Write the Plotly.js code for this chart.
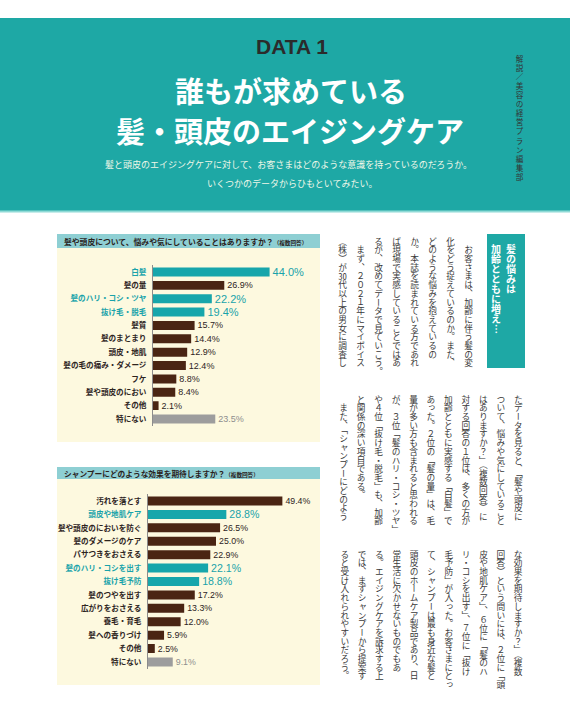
<!DOCTYPE html>
<html>
<head>
<meta charset="utf-8">
<script src="https://cdn.plot.ly/plotly-3.0.1.min.js"></script>
<style>
  html, body { margin:0; padding:0; background:#fff; }
  #wrap { position:relative; width:570px; height:705px; overflow:hidden; }
  #chart { position:absolute; left:0; top:0; width:570px; height:705px; }
  .vt { position:absolute; writing-mode:vertical-rl; white-space:nowrap;
        font-family:"Noto Sans CJK JP","Noto Sans",sans-serif; color:#3a3a3a; }
  .tcy { text-combine-upright:all; }
</style>
</head>
<body>
<div id="wrap">
  <div id="chart"></div>
  <div id="credit" class="vt"></div>
  <div id="boxhead" class="vt"></div>
  <div id="row1" class="vt"></div>
  <div id="row2" class="vt"></div>
  <div id="row3" class="vt"></div>
</div>
<script>
// ---------------- data ----------------
const title1 = '髪や頭皮について、悩みや気にしていることはありますか？';
const cats1 = ['白髪','髪の量','髪のハリ・コシ・ツヤ','抜け毛・脱毛','髪質','髪のまとまり','頭皮・地肌','髪の毛の痛み・ダメージ','フケ','髪や頭皮のにおい','その他','特にない'];
const vals1 = [44.0, 26.9, 22.2, 19.4, 15.7, 14.4, 12.9, 12.4, 8.8, 8.4, 2.1, 23.5];
const hi1 = ['白髪','髪のハリ・コシ・ツヤ','抜け毛・脱毛'];

const title2 = 'シャンプーにどのような効果を期待しますか？';
const cats2 = ['汚れを落とす','頭皮や地肌ケア','髪や頭皮のにおいを防ぐ','髪のダメージのケア','パサつきをおさえる','髪のハリ・コシを出す','抜け毛予防','髪のつやを出す','広がりをおさえる','養毛・育毛','髪への香りづけ','その他','特にない'];
const vals2 = [49.4, 28.8, 26.5, 25.0, 22.9, 22.1, 18.8, 17.2, 13.3, 12.0, 5.9, 2.5, 9.1];
const hi2 = ['頭皮や地肌ケア','髪のハリ・コシを出す','抜け毛予防'];

const noneLabel = '特にない';
const multiNote = '（複数回答）';

const headLabel = 'DATA 1';
const headTitle = ['誰もが求めている', '髪・頭皮のエイジングケア'];
const headSub = ['髪と頭皮のエイジングケアに対して、お客さまはどのような意識を持っているのだろうか。', 'いくつかのデータからひもといてみたい。'];
const credit = '解説／美容の経営プラン編集部';
const boxHead = ['髪の悩みは', '加齢とともに増え…'];
const body1 = ['　お客さまは、加齢に伴う髪の変','化をどう捉えているのか。また、','どのような悩みを抱えているの','か。本誌を読まれている方であれ','ば現場で実感していることではあ','るが、改めてデータで見ていこう。','　まず、２０２１年にマイボイス','（株）が<span class="tcy">30</span>代以上の男女に調査し'];
const body2 = ['たデータを見ると、「髪や頭皮に','ついて、悩みや気にしていること','はありますか？」（複数回答）に','対する回答の１位は、多くの方が','加齢とともに実感する「白髪」で','あった。２位の「髪の量」は、毛','量が多い方も含まれると思われる','が、３位「髪のハリ・コシ・ツヤ」','や４位「抜け毛・脱毛」も、加齢','と関係の深い項目である。','　また、「シャンプーにどのよう'];
const body3 = ['な効果を期待しますか？」（複数','回答）という問いには、２位に「頭','皮や地肌ケア」、６位に「髪のハ','リ・コシを出す」、７位に「抜け','毛予防」が入った。お客さまにとっ','て、シャンプーは最も身近な髪と','頭皮のホームケア製品であり、日','常生活に欠かせないものでもあ','る。エイジングケアを訴求する上','では、まずシャンプーから提案す','ると受け入れられやすいだろう。'];

// ---------------- style ----------------
const W = 570, H = 705;
const X = p => p / W;
const Y = p => 1 - p / H;
const TEAL = '#1ea8a5', BAR_TEAL = '#17a6ab', BROWN = '#4a2513', GRAY = '#9d9d9d';
const LBL_TEAL = '#19a3aa', DARK = '#2d241e';
const JP = '"Noto Sans CJK JP", "Noto Sans", sans-serif';
const NUM = '"Liberation Sans", Arial, sans-serif';

function kind(c, hi){ return hi.includes(c) ? 'hi' : (c === noneLabel ? 'none' : 'n'); }
function barTrace(cats, vals, hi, xa, ya, hiSize, nSize){
  const k = cats.map(c => kind(c, hi));
  return {
    type:'bar', orientation:'h', x:vals, y:cats, xaxis:xa, yaxis:ya,
    marker:{ color:k.map(t => t==='hi'?BAR_TEAL:(t==='none'?GRAY:BROWN)), line:{width:0} },
    texttemplate:'%{x:.1f}%', textposition:'outside', constraintext:'none', cliponaxis:false,
    textfont:{ family:NUM, size:k.map(t => t==='hi'?hiSize:nSize),
               color:k.map(t => t==='hi'?LBL_TEAL:(t==='none'?'#8e8e8e':DARK)) },
    hoverinfo:'skip', showlegend:false
  };
}
function tickText(cats, hi){
  return cats.map(c => hi.includes(c) ? '<span style="color:'+LBL_TEAL+'">'+c+'</span>' : c);
}

// geometry (pixels)
const c1 = { axis:153, right:318, scale:2.65, top:272, bot:419, n:cats1.length };
const c2 = { axis:148, right:318, scale:2.72, top:501, bot:662, n:cats2.length };
function dom(c){
  const step = (c.bot - c.top) / (c.n - 1);
  return { x:[X(c.axis), X(c.right)], xr:[0, (c.right - c.axis) / c.scale],
           y:[Y(c.bot + step/2), Y(c.top - step/2)] };
}
const d1 = dom(c1), d2 = dom(c2);

const yax = (cats, hi, domain, anchor) => ({
  domain, anchor, type:'category', categoryorder:'array', categoryarray:cats,
  range:[cats.length - 0.5, -0.5], tickvals:cats, ticktext:tickText(cats, hi),
  showline:true, linecolor:'#8c8c8c', linewidth:1, ticks:'', showgrid:false, zeroline:false,
  ticklabelstandoff:4, tickfont:{ family:JP, size:7.6, color:DARK, weight:700 }, fixedrange:true
});
const xax = (domain, range, anchor) => ({
  domain, range, anchor, showgrid:false, zeroline:false, showticklabels:false, ticks:'', showline:false, fixedrange:true
});

const rect = (x0,y0,x1,y1,color) => ({ type:'rect', xref:'paper', yref:'paper', layer:'below',
  x0:X(x0), x1:X(x1), y0:Y(y1), y1:Y(y0), fillcolor:color, line:{width:0} });

const shapes = [
  rect(0,18,570,212,TEAL),
  rect(0,210.5,570,212.5,'#8fdad6'),
  rect(57,248,320,442,'#fdf9df'),
  rect(57,234,320,248,'#8ecfd3'),
  rect(57,479,320,685,'#fdf9df'),
  rect(57,467,320,479,'#8ecfd3'),
  rect(487,234,525,368,TEAL)
];

const ann = (x,y,text,size,color,opts) => Object.assign({
  xref:'paper', yref:'paper', x:X(x), y:Y(y), text, showarrow:false,
  xanchor:'center', yanchor:'middle', font:{ family:JP, size, color }
}, opts||{});

const annotations = [
  ann(292,47,headLabel,21,'#2b2b2b',{font:{family:NUM,size:21,color:'#2b2b2b',weight:700}}),
  ann(291,90,headTitle[0],29,'#ffffff',{font:{family:JP,size:29,color:'#ffffff',weight:700}}),
  ann(290,130,headTitle[1],29,'#ffffff',{font:{family:JP,size:29,color:'#ffffff',weight:700}}),
  ann(288,164,headSub[0],9,'#eef7e8'),
  ann(292,184,headSub[1],9,'#eef7e8'),
  ann(62,241.5,title1+'<span style="font-size:5.6px">'+multiNote+'</span>',7.8,'#2a221c',{xanchor:'left',font:{family:JP,size:7.8,color:'#2a221c',weight:700}}),
  ann(62,473.5,title2+'<span style="font-size:5.6px">'+multiNote+'</span>',7.7,'#2a221c',{xanchor:'left',font:{family:JP,size:7.7,color:'#2a221c',weight:700}})
];

const layout = {
  width:W, height:H, margin:{l:0,r:0,t:0,b:0}, paper_bgcolor:'#ffffff', plot_bgcolor:'rgba(0,0,0,0)',
  bargap:0.33, showlegend:false, shapes, annotations,
  xaxis: xax(d1.x, d1.xr, 'y'),
  yaxis: yax(cats1, hi1, d1.y, 'x'),
  xaxis2: xax(d2.x, d2.xr, 'y2'),
  yaxis2: yax(cats2, hi2, d2.y, 'x2')
};

Plotly.newPlot('chart', [
  barTrace(cats1, vals1, hi1, 'x', 'y', 11, 9),
  barTrace(cats2, vals2, hi2, 'x2', 'y2', 10.6, 8.8)
], layout, {staticPlot:true, displayModeBar:false});

// ---------------- vertical body text ----------------
function placeVT(id, lines, firstCenter, top, size, lh, extra){
  const el = document.getElementById(id);
  el.innerHTML = lines.join('<br>');
  el.style.fontSize = size + 'px';
  el.style.lineHeight = lh + 'px';
  el.style.top = top + 'px';
  el.style.right = (W - (firstCenter + lh/2)) + 'px';
  if (extra) Object.assign(el.style, extra);
}
placeVT('credit', [credit], 519, 55, 7.6, 10, {letterSpacing:'1.5px', color:'#333'});
placeVT('boxhead', boxHead, 511, 244, 10, 15, {color:'#ffffff', fontWeight:'700'});
placeVT('row1', body1, 468, 237, 8.7, 18);
placeVT('row2', body2, 518, 395, 8.7, 17.45);
placeVT('row3', body3, 518, 550, 8.7, 17.35);
</script>
</body>
</html>
